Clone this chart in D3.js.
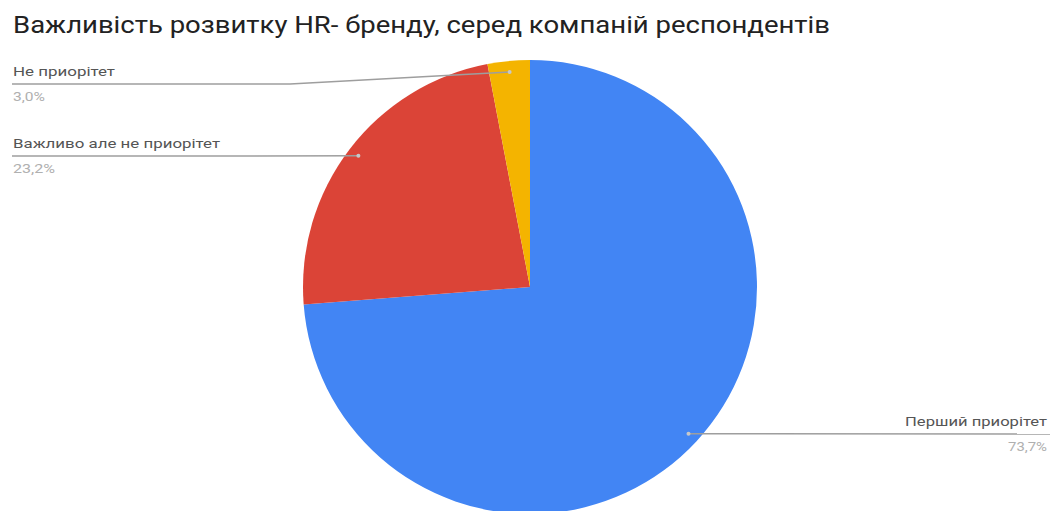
<!DOCTYPE html>
<html>
<head>
<meta charset="utf-8">
<script src="https://cdn.jsdelivr.net/npm/d3@7"></script>
<style>
  body { margin: 0; background: #fff; }
  svg { display: block; font-family: Roboto, "Noto Sans", sans-serif; }
</style>
</head>
<body>
<svg id="chart" width="1053" height="511"></svg>
<script>
const title = 'Важливість розвитку HR- бренду, серед компаній респондентів';
const categories = ['Перший приорітет', 'Важливо але не приорітет', 'Не приорітет'];
const values = [73.7, 23.2, 3.0];
const valueLabels = ['73,7%', '23,2%', '3,0%'];
const colors = ['#4285f4', '#db4437', '#f4b400'];

const width = 1053, height = 511;
const cx = 530, cy = 287, radius = 227;

const svg = d3.select('#chart');

// the source font is wider than Roboto, stretch text to the measured widths
function fitText(sel, w) {
  sel.attr('textLength', w).attr('lengthAdjust', 'spacingAndGlyphs');
}

svg.append('text')
  .attr('x', 13)
  .attr('y', 33)
  .attr('font-size', 24)
  .attr('fill', '#222')
  .text(title)
  .call(fitText, 817);

const data = categories.map((c, i) => ({name: c, value: values[i], label: valueLabels[i], color: colors[i]}));

const pie = d3.pie()
  .sort(null)
  .value(d => d.value);

const arcs = pie(data);
const arc = d3.arc().innerRadius(0).outerRadius(radius);
const dotArc = d3.arc().innerRadius(216).outerRadius(216);

const g = svg.append('g').attr('transform', `translate(${cx},${cy})`);

g.selectAll('path.slice')
  .data(arcs)
  .join('path')
  .attr('class', 'slice')
  .attr('d', arc)
  .attr('fill', d => d.data.color);

// label placement (left column for small slices, right for the big one)
const labelPos = [
  {side: 'right', x: 1047, lineY: 434, bend: null, nameW: 142, valW: 39},
  {side: 'left', x: 13, lineY: 156, bend: null, nameW: 207, valW: 42},
  {side: 'left', x: 13, lineY: 84, bend: 290, nameW: 102, valW: 32}
];

arcs.forEach((a, i) => {
  const [dx, dy] = dotArc.centroid(a);
  const px = cx + dx, py = cy + dy;
  const lp = labelPos[i];
  let pts;
  if (lp.side === 'left') {
    pts = lp.bend ? [[lp.x - 1, lp.lineY], [lp.bend, lp.lineY], [px, py]] : [[lp.x - 1, lp.lineY], [px, py]];
  } else {
    pts = [[px, py], [lp.x + 3, lp.lineY]];
  }
  svg.append('path')
    .attr('d', d3.line()(pts))
    .attr('fill', 'none')
    .attr('stroke', '#9e9e9e')
    .attr('stroke-width', 1.5);

  svg.append('circle')
    .attr('cx', px)
    .attr('cy', py)
    .attr('r', 2)
    .attr('fill', '#c8c8c8');

  const anchor = lp.side === 'left' ? 'start' : 'end';
  svg.append('text')
    .attr('x', lp.x)
    .attr('y', lp.lineY - 8)
    .attr('text-anchor', anchor)
    .attr('font-size', 13)
    .attr('fill', '#555')
    .text(a.data.name)
    .call(fitText, lp.nameW);
  svg.append('text')
    .attr('x', lp.x)
    .attr('y', lp.lineY + 17)
    .attr('text-anchor', anchor)
    .attr('font-size', 12)
    .attr('fill', '#b0b0b0')
    .text(a.data.label)
    .call(fitText, lp.valW);
});
</script>
</body>
</html>
